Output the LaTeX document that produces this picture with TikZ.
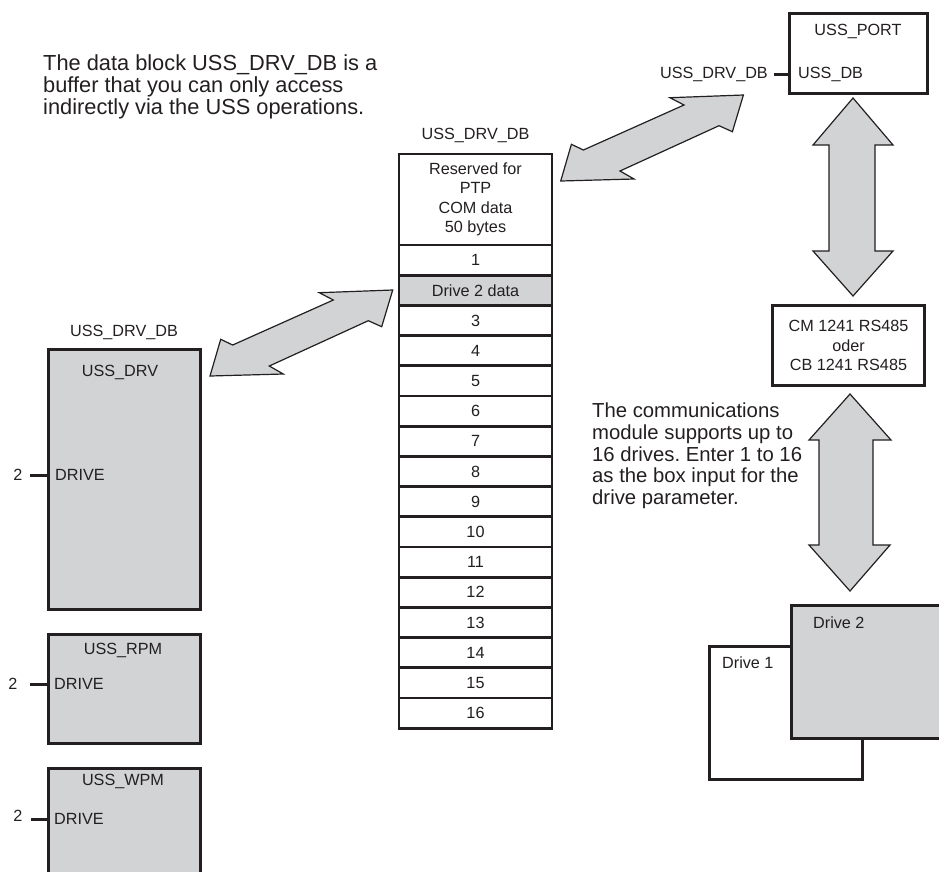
\documentclass[tikz,border=0pt]{standalone}
\usepackage{fontspec}
\setmainfont{Liberation Sans}
\usetikzlibrary{calc}
\definecolor{blockgray}{HTML}{D1D3D4}
\definecolor{ink}{HTML}{231F20}
\tikzset{
  box/.style={draw=ink, line width=3pt, inner sep=0pt, anchor=north west},
  graybox/.style={box, fill=blockgray},
  lbl/.style={inner sep=0pt, font=\fontsize{16.2}{19.5}\selectfont, text=ink},
  big/.style={inner sep=0pt, font=\frenchspacing\fontsize{21.8}{21.8}\selectfont, text=ink, align=left, anchor=north west},
  row/.style={draw=ink, line width=2.8pt, minimum width=153pt, minimum height=30.2pt, inner sep=0pt, lbl},
  blockarrow/.style={draw=ink, line width=1.2pt, fill=blockgray, line join=miter},
  tick/.style={draw=ink, line width=3pt},
}
\newcommand\diagarrow[1]{%
  \filldraw[blockarrow, shift={(#1)}] (0,0) -- (73.3,-2) -- (59.3,-10) -- (158.3,-55.3)
    -- (171.7,-49.3) -- (182.7,-86) -- (109.3,-83.3) -- (123.3,-76) -- (22.7,-31)
    -- (10.7,-36.7) -- cycle;}
\begin{document}
\begin{tikzpicture}[x=1pt, y=-1pt]
\useasboundingbox (0,0) rectangle (939,871);
\clip (0,0) rectangle (939,871);

% top-left note
\node[big] (note1) at (43,54.5) {The data block USS\_DRV\_DB is a\\buffer that you can only access\\indirectly via the USS operations.};

% central data block
\node[lbl] (dbl) at (475.5,135) {USS\_DRV\_DB};
\node[row, minimum height=91pt, align=center] (res) at (475.5,199.5) {Reserved for\\PTP\\COM data\\50 bytes};
\foreach \i/\t/\f in {1/1/white, 2/{Drive 2 data}/blockgray, 3/3/white, 4/4/white, 5/5/white,
  6/6/white, 7/7/white, 8/8/white, 9/9/white, 10/10/white, 11/11/white, 12/12/white,
  13/13/white, 14/14/white, 15/15/white, 16/16/white}
  \node[row, fill=\f] (r\i) at (475.5, {245+(\i-0.5)*30.2}) {\t};

% USS_DRV block
\node[lbl] (drvdb) at (124,332) {USS\_DRV\_DB};
\node[graybox, minimum width=152pt, minimum height=260pt] (drv) at (47,348) {};
\node[lbl] (drvt) at (120,372) {USS\_DRV};
\node[lbl, anchor=west] (drvin) at (55,475) {DRIVE};
\node[lbl] (drv2) at (18,475) {2};
\draw[tick] ([xshift=7.5pt]drv2.east |- drvin.west) -- (drvin.west -| drv.west);

% USS_RPM block
\node[graybox, minimum width=152pt, minimum height=109pt] (rpm) at (47,633) {};
\node[lbl] (rpmt) at (123,650) {USS\_RPM};
\node[lbl, anchor=west] (rpmin) at (54,684) {DRIVE};
\node[lbl] (rpm2) at (13,684) {2};
\draw[tick] ([xshift=12.5pt]rpm2.east |- rpmin.west) -- (rpmin.west -| rpm.west);

% USS_WPM block
\node[graybox, minimum width=152pt, minimum height=130pt] (wpm) at (47,767) {};
\node[lbl] (wpmt) at (123,781) {USS\_WPM};
\node[lbl, anchor=west] (wpmin) at (54,819) {DRIVE};
\node[lbl] (wpm2) at (18,816) {2};
\draw[tick] ([xshift=8pt]wpm2.east |- wpmin.west) -- (wpmin.west -| wpm.west);

% USS_PORT block
\node[box, minimum width=138pt, minimum height=80pt] (port) at (788,12) {};
\node[lbl] (portt) at (858,31) {USS\_PORT};
\node[lbl, anchor=west] (portin) at (798,74) {USS\_DB};
\node[lbl, anchor=east] (portdb) at (768,74) {USS\_DRV\_DB};
\draw[tick] ([xshift=6pt]portdb.east) -- (portin.west -| port.west);

% communications module
\node[box, lbl, minimum width=152pt, minimum height=80pt, align=center] (cm) at (771,304) {CM 1241 RS485\\oder\\CB 1241 RS485};

% note on the right
\node[big, font=\frenchspacing\fontsize{20.3}{21.8}\selectfont] (note2) at (592,402.5) {The communications\\module supports up to\\16 drives. Enter 1 to 16\\as the box input for the\\drive parameter.};

% drives
\node[box, fill=white, minimum width=153pt, minimum height=133pt] (d1) at (708,645) {};
\node[graybox, minimum width=170pt, minimum height=133pt] (d2) at (790,604) {};
\node[lbl, anchor=west] (d1t) at (722,663) {Drive 1};
\node[lbl, anchor=west] (d2t) at (813,623) {Drive 2};

% block arrows
\coordinate (arrA) at (560.7,181);
\coordinate (arrB) at (210,376);
\diagarrow{arrA}
\diagarrow{arrB}
\filldraw[blockarrow] (853,98) -- (893,145) -- (875,145) -- (875,251) -- (893,251) -- (853,296)
  -- (813,251) -- (829,251) -- (829,145) -- (813,145) -- cycle;
\filldraw[blockarrow] (850,394) -- (891,440) -- (873,440) -- (873,545) -- (890,545) -- (850,591)
  -- (809,545) -- (819,545) -- (819,440) -- (809,440) -- cycle;
\end{tikzpicture}
\end{document}
